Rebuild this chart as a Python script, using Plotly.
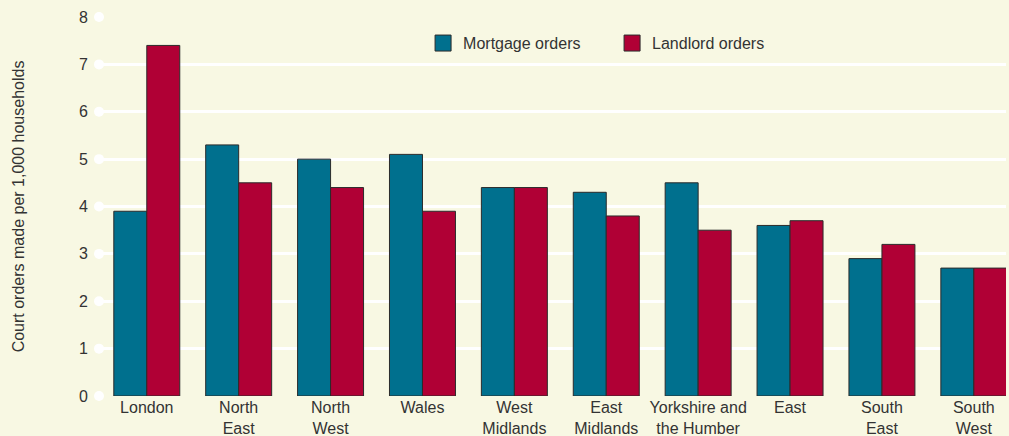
import plotly.graph_objects as go

categories = ["London", "North<br>East", "North<br>West", "Wales", "West<br>Midlands",
              "East<br>Midlands", "Yorkshire and<br>the Humber", "East", "South<br>East", "South<br>West"]
mortgage = [3.9, 5.3, 5.0, 5.1, 4.4, 4.3, 4.5, 3.6, 2.9, 2.7]
landlord = [7.4, 4.5, 4.4, 3.9, 4.4, 3.8, 3.5, 3.7, 3.2, 2.7]
y_ticks = [0, 1, 2, 3, 4, 5, 6, 7, 8]

BG = "#f8f8e3"
MORT_C = "#00708e"
LAND_C = "#b00035"
EDGE = "#2b2b2b"
TXT = "#333333"
FONT = "Liberation Sans, Arial, sans-serif"
x_idx = list(range(len(categories)))
x_min, x_max = -0.52, 9.35

fig = go.Figure()
fig.add_trace(go.Bar(name="Mortgage orders", x=x_idx, y=mortgage, showlegend=False,
                     marker=dict(color=MORT_C, line=dict(color=EDGE, width=1))))
fig.add_trace(go.Bar(name="Landlord orders", x=x_idx, y=landlord, showlegend=False,
                     marker=dict(color=LAND_C, line=dict(color=EDGE, width=1))))
# legend entries with larger square swatches
for nm, c in [("Mortgage orders", MORT_C), ("Landlord orders", LAND_C)]:
    fig.add_trace(go.Scatter(name=nm, x=[None], y=[None], mode="markers",
                             marker=dict(symbol="square", size=18, color=c,
                                         line=dict(color=EDGE, width=1))))
# white dots at the left end of gridlines
fig.add_trace(go.Scatter(x=[x_min] * len(y_ticks), y=y_ticks, mode="markers",
                         marker=dict(color="white", size=10), showlegend=False,
                         hoverinfo="skip", cliponaxis=False))

fig.update_layout(
    width=1009, height=436,
    margin=dict(l=99, r=3, t=17, b=40),
    paper_bgcolor=BG, plot_bgcolor=BG,
    barmode="group", bargap=0.282, bargroupgap=0,
    font=dict(family=FONT, size=16, color=TXT),
    legend=dict(orientation="h", x=0.3573, y=0.931, xanchor="left", yanchor="middle",
                bgcolor="rgba(0,0,0,0)", font=dict(size=16, color=TXT),
                itemwidth=30, traceorder="normal", entrywidth=144, entrywidthmode="pixels"),
    xaxis=dict(range=[x_min, x_max], tickmode="array", tickvals=x_idx, ticktext=categories,
               showgrid=False, zeroline=False, showline=False, ticks="", automargin=False,
               tickfont=dict(size=16, color=TXT)),
    yaxis=dict(range=[0, 8], tickmode="array", tickvals=y_ticks, showgrid=True,
               gridcolor="white", gridwidth=3, zeroline=False, showline=False,
               ticks="", ticklabelstandoff=10, automargin=False,
               title=dict(text="Court orders made per 1,000 households", standoff=50,
                          font=dict(size=16, color=TXT)),
               tickfont=dict(size=16, color=TXT)),
)

fig.write_html("out.html", config={"displayModeBar": False},
               post_script="document.body.style.margin='0';")
